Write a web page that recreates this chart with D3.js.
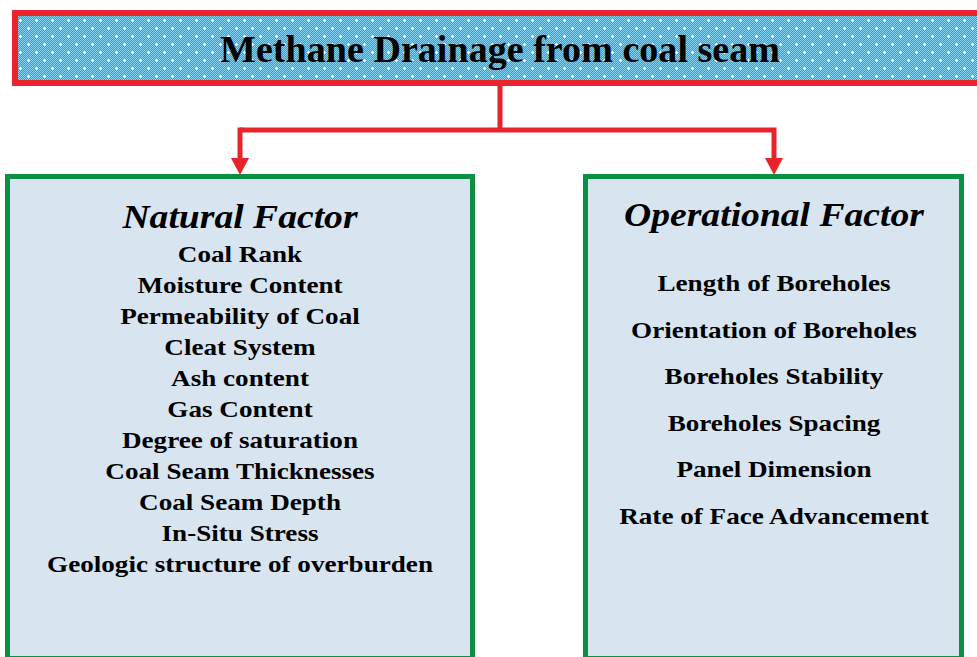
<!DOCTYPE html>
<html>
<head>
<meta charset="utf-8">
<script src="https://cdn.jsdelivr.net/npm/d3@7"></script>
<style>
  html, body { margin: 0; padding: 0; background: #ffffff; overflow: hidden; }
  svg { display: block; }
</style>
</head>
<body>
<svg width="977" height="657"></svg>
<script>
// Тексты схемы
const title = "Methane Drainage from coal seam";
const headings = ["Natural Factor", "Operational Factor"];
const naturalFactors = [
    "Coal Rank", "Moisture Content", "Permeability of Coal", "Cleat System",
    "Ash content", "Gas Content", "Degree of saturation", "Coal Seam Thicknesses",
    "Coal Seam Depth", "In-Situ Stress", "Geologic structure of overburden"
];
const operationalFactors = [
    "Length of Boreholes", "Orientation of Boreholes", "Boreholes Stability",
    "Boreholes Spacing", "Panel Dimension", "Rate of Face Advancement"
];

const svg = d3.select("svg");
const red = "#e8232a", green = "#0b8f43", boxFill = "#d8e5f0";
const font = "'Liberation Serif', 'Times New Roman', serif";

// узор заливки верхнего блока
const defs = svg.append("defs");
const pat = defs.append("pattern")
    .attr("id", "dots").attr("patternUnits", "userSpaceOnUse")
    .attr("width", 16).attr("height", 16);
pat.append("rect").attr("width", 16).attr("height", 16).attr("fill", "#1ea6e2");
for (let i = 0; i < 16; i++) {
    for (let j = 0; j < 16; j++) {
        if ((i + j) % 2 === 0) {
            pat.append("rect").attr("x", i).attr("y", j).attr("width", 1).attr("height", 1)
               .attr("fill", "#86d2f2");
        }
    }
}
// белые крестики
[[4, 4], [12, 12]].forEach(([cx, cy]) => {
    pat.append("rect").attr("x", cx - 1).attr("y", cy).attr("width", 3).attr("height", 1).attr("fill", "#fff");
    pat.append("rect").attr("x", cx).attr("y", cy - 1).attr("width", 1).attr("height", 3).attr("fill", "#fff");
});

// Верхний блок
svg.append("rect")
   .attr("x", 15).attr("y", 13).attr("width", 980).attr("height", 70)
   .attr("fill", "url(#dots)")
   .attr("stroke", red).attr("stroke-width", 6);

svg.append("text")
   .attr("transform", "translate(500,62) scale(1.03,1)")
   .attr("text-anchor", "middle")
   .style("font-family", font).style("font-weight", "bold").style("font-size", "37px")
   .text(title);

// Нижние блоки
const boxes = [
    { x: 7.5, w: 465, cx: 240 },
    { x: 585.5, w: 376, cx: 774 }
];
boxes.forEach(b => {
    svg.append("rect")
       .attr("x", b.x).attr("y", 176.5).attr("width", b.w).attr("height", 482)
       .attr("fill", boxFill).attr("stroke", green).attr("stroke-width", 5);
});

// Соединительные линии и стрелки
svg.append("path")
   .attr("d", `M500,86 V130 M${boxes[0].cx},130 H${boxes[1].cx - 2}`)
   .attr("fill", "none").attr("stroke", red).attr("stroke-width", 5);
boxes.forEach(b => {
    svg.append("path")
       .attr("d", `M${b.cx},127.5 V160`)
       .attr("stroke", red).attr("stroke-width", 5);
    svg.append("path")
       .attr("d", `M${b.cx - 9},158 L${b.cx + 9},158 L${b.cx},175 Z`)
       .attr("fill", red);
});

// Заголовки блоков
const headY = [228, 226];
headings.forEach((h, i) => {
    svg.append("text")
       .attr("transform", `translate(${boxes[i].cx},${headY[i]}) scale(1.14,1)`)
       .attr("text-anchor", "middle")
       .style("font-family", font).style("font-weight", "bold")
       .style("font-style", "italic").style("font-size", "33px")
       .text(h);
});

// Шкалы для строк
const yNat = d3.scaleLinear().domain([0, naturalFactors.length - 1]).range([262, 572]);
const yOp = d3.scaleLinear().domain([0, operationalFactors.length - 1]).range([291, 524]);

function drawList(list, scale, cx) {
    svg.append("g").selectAll("text")
       .data(list)
       .enter()
       .append("text")
       .attr("transform", (d, i) => `translate(${cx},${scale(i)}) scale(1.18,1)`)
       .attr("text-anchor", "middle")
       .style("font-family", font).style("font-weight", "bold").style("font-size", "23px")
       .text(d => d);
}
drawList(naturalFactors, yNat, boxes[0].cx);
drawList(operationalFactors, yOp, boxes[1].cx);
</script>
</body>
</html>
